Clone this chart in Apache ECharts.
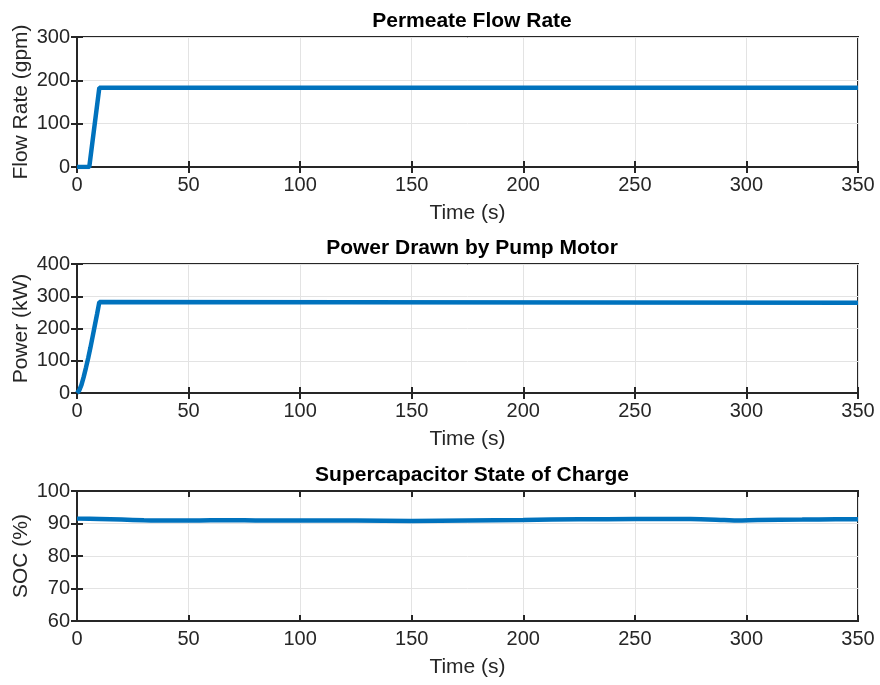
<!DOCTYPE html>
<html>
<head>
<meta charset="utf-8">
<script src="https://cdn.jsdelivr.net/npm/echarts@6/dist/echarts.min.js"></script>
<style>
  html, body { margin: 0; padding: 0; background: #fff; }
  #chart { width: 880px; height: 685px; }
</style>
</head>
<body>
<div id="chart"></div>
<script>
var flowTime = [0, 5.5, 10, 350];
var flowVals = [0, 0, 183, 183];

var powerTime = [0, 1, 2, 3, 4, 5, 6, 7, 8, 9, 10, 350];
var powerVals = [0, 8, 25, 50, 78, 108, 140, 175, 210, 245, 282, 280];

var socTime = [0, 10, 20, 30, 40, 50, 60, 70, 80, 100, 125, 150, 175, 200, 225, 250, 275, 290, 296, 305, 325, 340, 350];
var socVals = [91.5, 91.4, 91.2, 91.0, 90.9, 90.9, 91.0, 91.0, 90.95, 90.9, 90.9, 90.8, 90.95, 91.1, 91.3, 91.35, 91.35, 91.1, 90.95, 91.1, 91.2, 91.3, 91.3];

var titles = ['Permeate Flow Rate', 'Power Drawn by Pump Motor', 'Supercapacitor State of Charge'];
var yNames = ['Flow Rate (gpm)', 'Power (kW)', 'SOC (%)'];
var yRanges = [[0, 300, 100], [0, 400, 100], [60, 100, 10]];

var font = 'Arial, "Liberation Sans", sans-serif';
var ink = '#262626';
var tops = [37, 264, 491];
var heights = [130, 129, 130];

function pairs(t, v) {
  return t.map(function (x, i) { return [x, v[i]]; });
}

var chart = echarts.init(document.getElementById('chart'));
var grids = [], xAxes = [], yAxes = [], series = [], titleOpts = [];
var datasets = [pairs(flowTime, flowVals), pairs(powerTime, powerVals), pairs(socTime, socVals)];

for (var i = 0; i < 3; i++) {
  grids.push({ left: 77, right: 22, top: tops[i], height: heights[i], show: true,
    containLabel: false, outerBoundsMode: 'none',
    borderColor: ink, borderWidth: 2, backgroundColor: '#fff' });
  titleOpts.push({ text: titles[i], left: 467, textAlign: 'center', top: tops[i] - 31,
    textStyle: { fontFamily: font, fontSize: 21, fontWeight: 'bold', color: '#000' } });
  xAxes.push({ type: 'value', gridIndex: i, min: 0, max: 350, interval: 50,
    name: 'Time (s)', nameLocation: 'middle', nameGap: 36, nameMoveOverlap: false,
    nameTextStyle: { fontFamily: font, fontSize: 21, color: ink },
    axisLine: { show: true, lineStyle: { color: ink, width: 2 } },
    axisTick: { inside: true, length: 6, lineStyle: { color: ink, width: 2 } },
    axisLabel: { fontFamily: font, fontSize: 20, color: ink, margin: 8 },
    splitLine: { show: true, lineStyle: { color: '#e3e3e3', width: 1 } } });
  xAxes.push({ type: 'value', gridIndex: i, min: 0, max: 350, interval: 50, position: 'top',
    axisLine: { show: true, lineStyle: { color: ink, width: 2 } },
    axisTick: { inside: true, length: 6, lineStyle: { color: ink, width: 2 } },
    axisLabel: { show: false }, splitLine: { show: false } });
  yAxes.push({ type: 'value', gridIndex: i, min: yRanges[i][0], max: yRanges[i][1], interval: yRanges[i][2],
    name: yNames[i], nameLocation: 'middle', nameGap: 45, nameMoveOverlap: false,
    nameTextStyle: { fontFamily: font, fontSize: 21, color: ink },
    axisLine: { show: true, lineStyle: { color: ink, width: 2 } },
    axisTick: { inside: true, length: 6, lineStyle: { color: ink, width: 2 } },
    axisLabel: { fontFamily: font, fontSize: 20, color: ink, margin: 7 },
    splitLine: { show: true, lineStyle: { color: '#e3e3e3', width: 1 } } });
  yAxes.push({ type: 'value', gridIndex: i, min: yRanges[i][0], max: yRanges[i][1], interval: yRanges[i][2],
    position: 'right',
    axisLine: { show: true, lineStyle: { color: ink, width: 2 } },
    axisTick: { inside: true, length: 6, lineStyle: { color: ink, width: 2 } },
    axisLabel: { show: false }, splitLine: { show: false } });
  series.push({ type: 'line', xAxisIndex: 2 * i, yAxisIndex: 2 * i, data: datasets[i],
    showSymbol: false, smooth: i === 2 ? 0.3 : false,
    lineStyle: { color: '#0072BD', width: 4.5 }, animation: false });
}

chart.setOption({
  animation: false,
  title: titleOpts,
  grid: grids,
  xAxis: xAxes,
  yAxis: yAxes,
  series: series
});
</script>
</body>
</html>
